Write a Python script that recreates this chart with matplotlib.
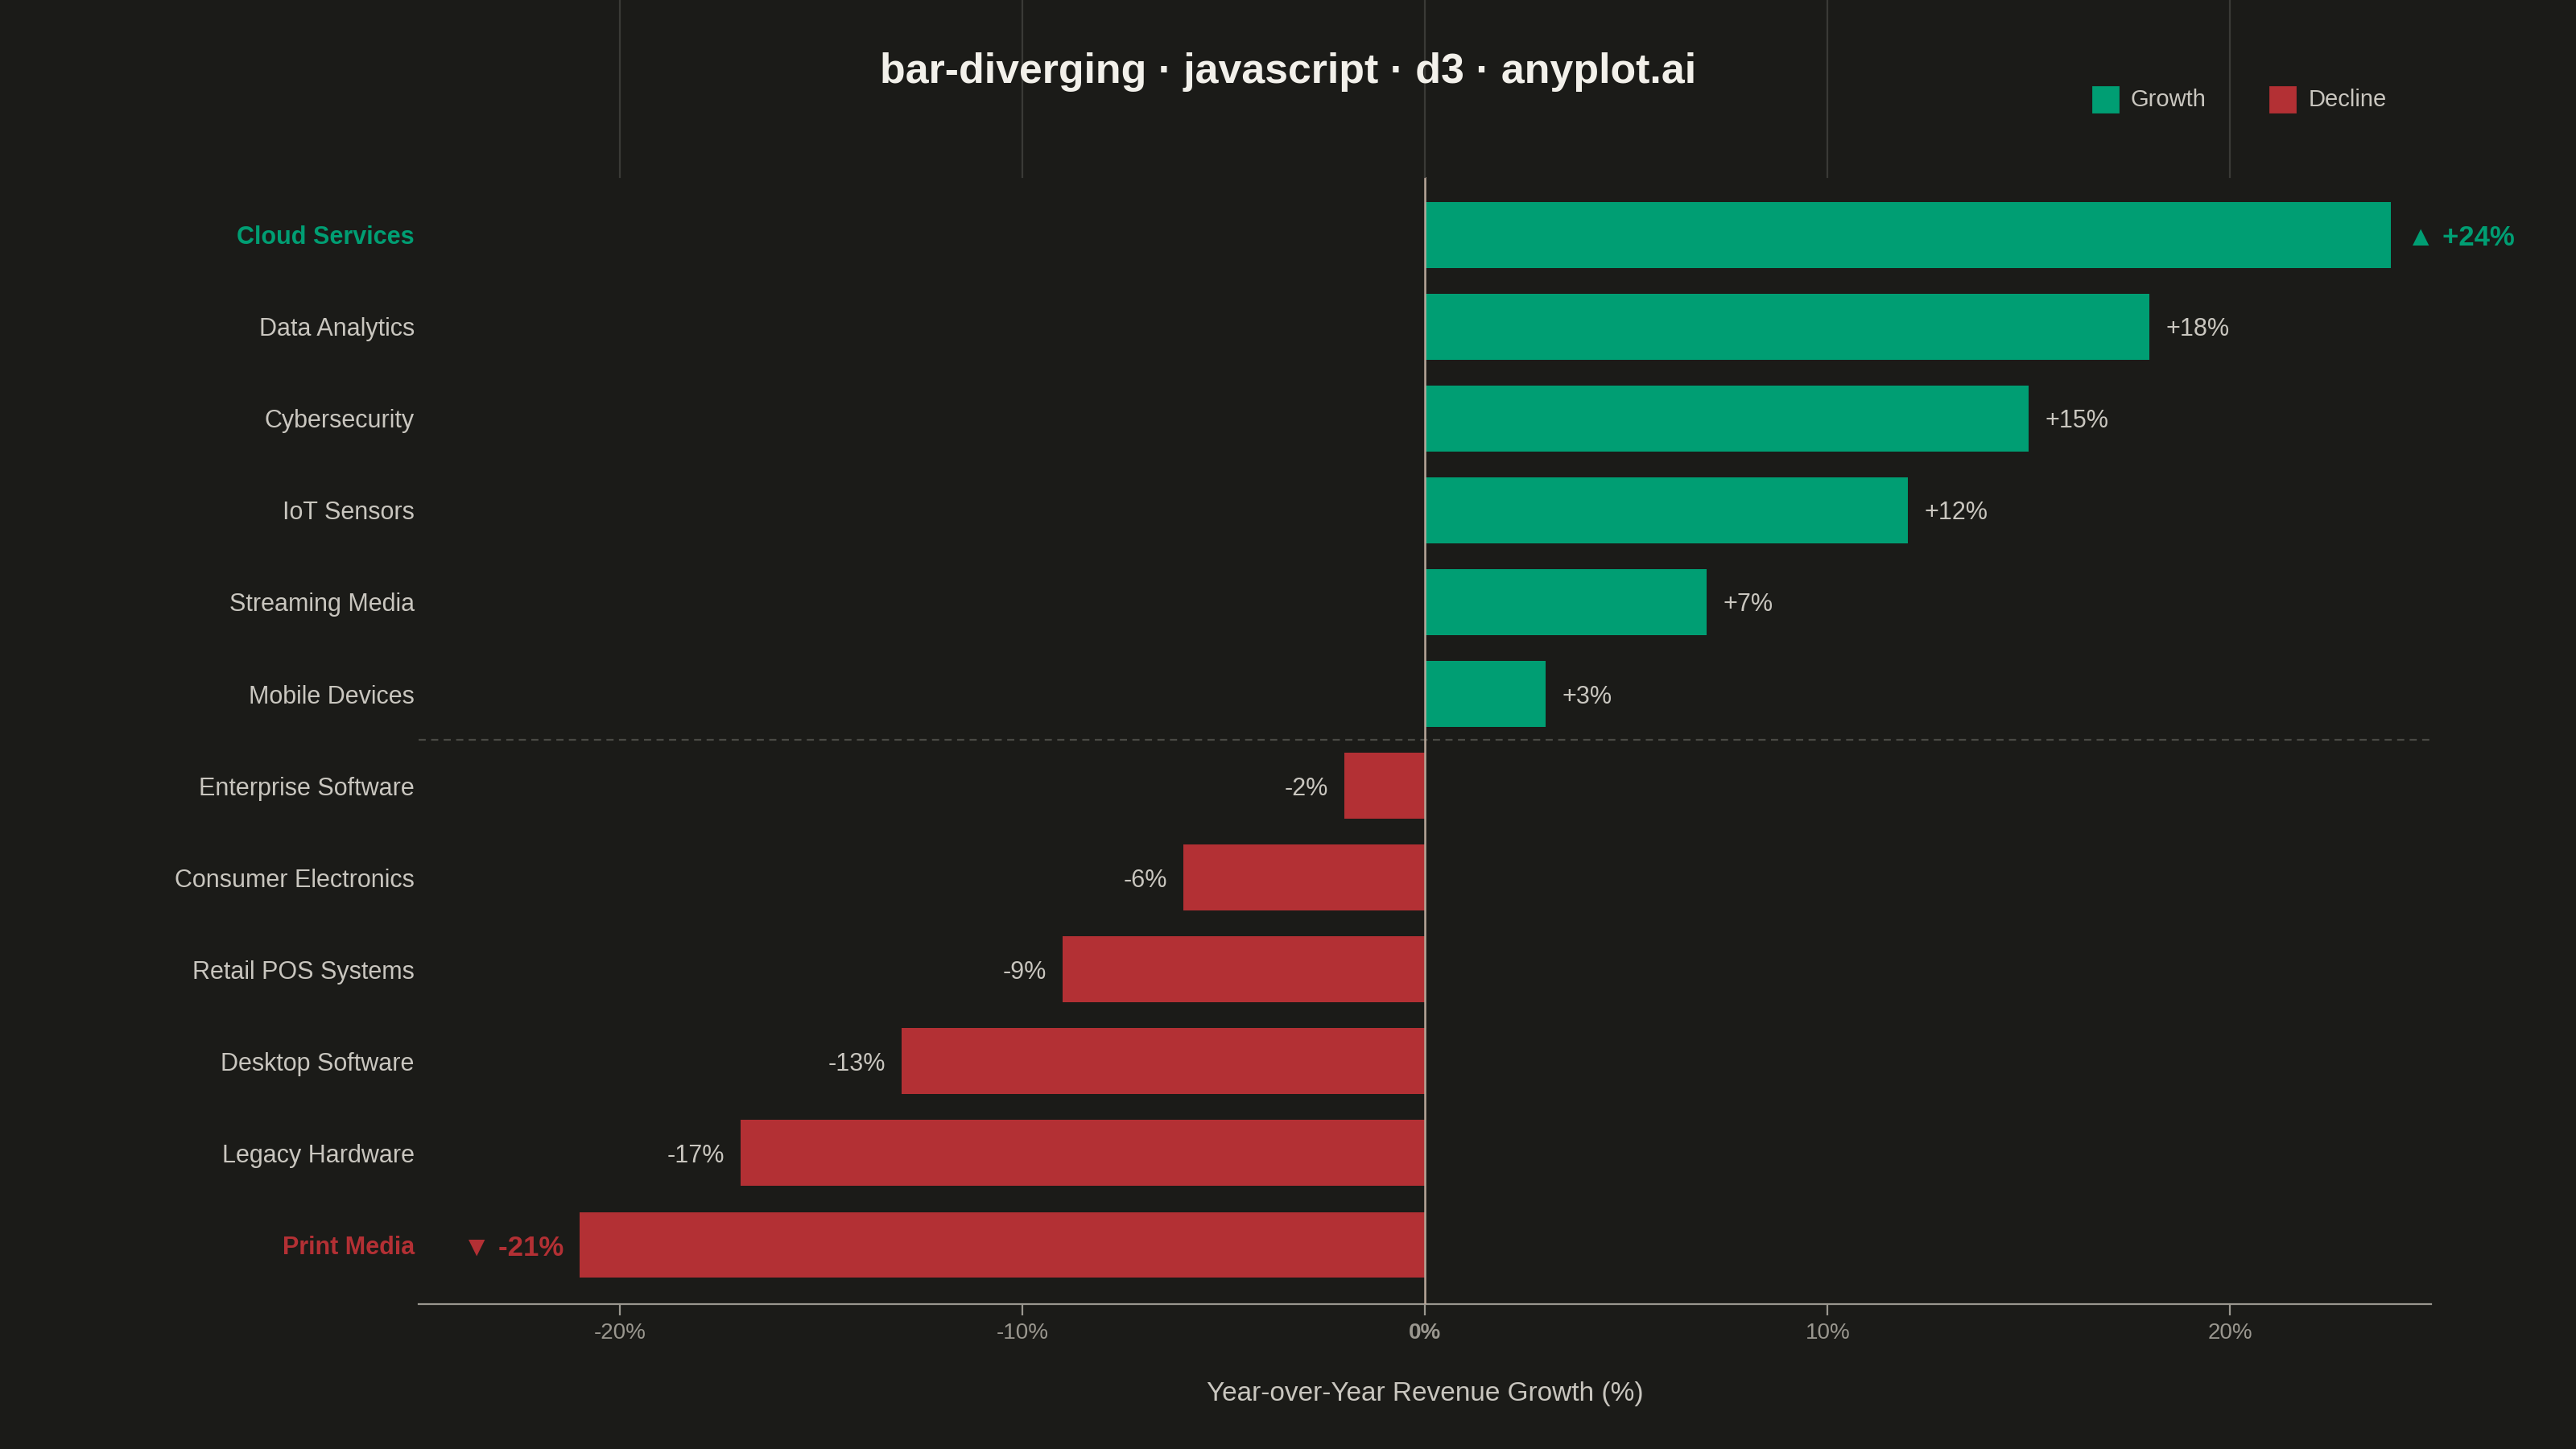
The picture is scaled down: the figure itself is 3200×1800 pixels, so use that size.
import matplotlib
matplotlib.use("Agg")
import matplotlib.pyplot as plt
from matplotlib.lines import Line2D
from matplotlib.patches import Rectangle

categories = ["Cloud Services", "Data Analytics", "Cybersecurity", "IoT Sensors",
              "Streaming Media", "Mobile Devices", "Enterprise Software",
              "Consumer Electronics", "Retail POS Systems", "Desktop Software",
              "Legacy Hardware", "Print Media"]
values = [24, 18, 15, 12, 7, 3, -2, -6, -9, -13, -17, -21]
ticks = [-20, -10, 0, 10, 20]
tick_labels = ["-20%", "-10%", "0%", "10%", "20%"]

BG = "#1b1b18"
GREEN = "#009e73"
RED = "#b33034"
TXT = "#c9c6bf"
GRID = "#3a3a36"
plt.rcParams['font.family'] = ['Liberation Sans', 'DejaVu Sans']

fig = plt.figure(figsize=(16, 9), dpi=200, facecolor=BG)
L, R, B, T = 255/1568, 1480/1568, 1-794/882, 1-108/882
ax = fig.add_axes([L, B, R-L, T-B], facecolor=BG)
ax.set_xlim(-25, 25)
ax.set_ylim(11.65, -0.626)

for i, v in enumerate(values):
    c = GREEN if v > 0 else RED
    ax.barh(i, v, height=0.715, color=c, zorder=2)
    lab = f"+{v}%" if v > 0 else f"{v}%"
    ha = "left" if v > 0 else "right"
    off = 0.4 if v > 0 else -0.4
    if i == 0:
        ax.text(v+off, i, "▲ " + lab, ha=ha, va="center_baseline", color=GREEN, fontsize=12.5,
                fontweight="bold")
    elif i == len(values)-1:
        ax.text(v+off, i, "▼ " + lab, ha=ha, va="center_baseline", color=RED, fontsize=12.5,
                fontweight="bold")
    else:
        ax.text(v+off, i, lab, ha=ha, va="center_baseline", color=TXT, fontsize=11)

ax.axvline(0, color="#b9a89a", lw=0.9, zorder=3)
ax.axhline(5.5, color="#4a4a45", lw=0.8, ls=(0, (4, 3)), zorder=1)

ax.set_yticks(range(len(categories)))
ax.set_yticklabels(categories)
for i, t in enumerate(ax.get_yticklabels()):
    t.set_fontsize(11)
    t.set_color(TXT)
    if i == 0:
        t.set_color(GREEN); t.set_fontweight("bold")
    elif i == len(categories)-1:
        t.set_color(RED); t.set_fontweight("bold")
ax.tick_params(axis="y", length=0, pad=2)

ax.set_xticks(ticks)
ax.set_xticklabels(tick_labels)
for t in ax.get_xticklabels():
    t.set_color(TXT); t.set_fontsize(10)
    if t.get_text() == "0%":
        t.set_fontweight("bold"); t.set_color("#e6e3dc")
ax.tick_params(axis="x", colors="#9a978f", length=5, pad=3)
ax.set_xlabel("Year-over-Year Revenue Growth (%)", color=TXT, fontsize=12, labelpad=17)

for s in ["top", "right", "left"]:
    ax.spines[s].set_visible(False)
ax.spines["bottom"].set_color("#9a978f")

for tv in ticks:
    xf = L + (tv + 25) / 50 * (R - L)
    fig.add_artist(Line2D([xf, xf], [T, 1.0], color=GRID, lw=0.8, transform=fig.transFigure))

fig.text(0.5, 1-44/882, "bar-diverging · javascript · d3 · anyplot.ai", ha="center", va="center",
         color="#f2f0ea", fontsize=18.7, fontweight="bold")

for xpx, col, name in [(1274, GREEN, "Growth"), (1382, RED, "Decline")]:
    w = 15/1568; h = 15/882
    fig.add_artist(Rectangle((xpx/1568, 1-68/882), w, h, color=col, transform=fig.transFigure))
    fig.text((xpx+23)/1568, 1-61/882, name, color=TXT, fontsize=10.5, va="center", ha="left")

fig.savefig("out.png", dpi=200, facecolor=BG)
